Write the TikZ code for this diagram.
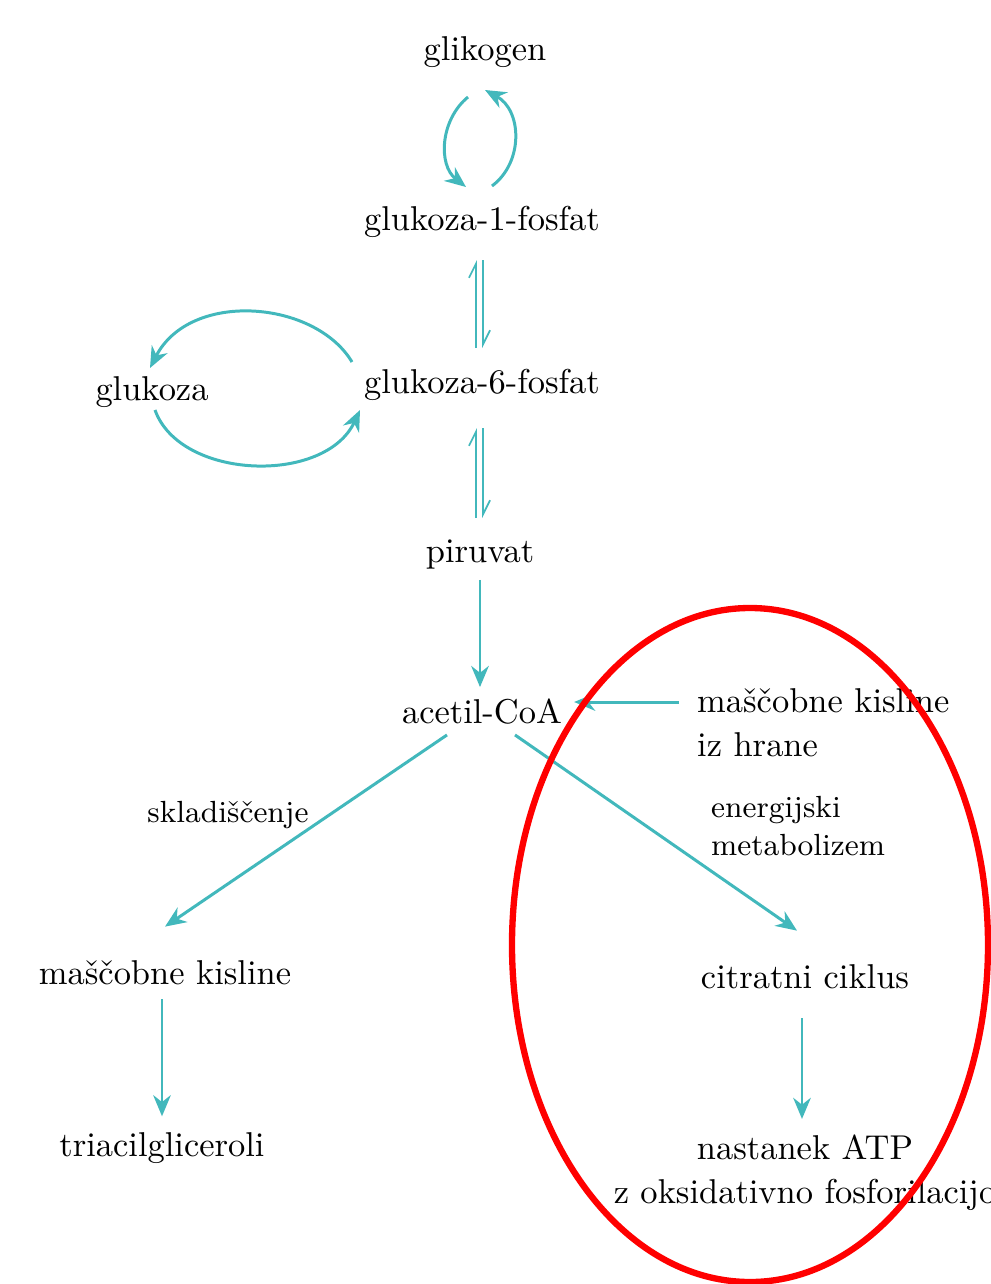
\documentclass[tikz,border=0pt]{standalone}
\usepackage{fontspec}
\usepackage{tikz}
\usetikzlibrary{positioning,arrows.meta,calc}
\definecolor{pathway}{RGB}{66,184,188}
\tikzset{
	metab/.style={font=\fontsize{9.8}{12.5}\selectfont, inner sep=1pt},
	note/.style={font=\fontsize{8.7}{11}\selectfont, inner sep=1pt, align=left},
	flow/.style={draw=pathway, line width=0.85pt, -{Stealth[length=6pt,width=5pt]}},
	half/.style={draw=pathway, line width=0.5pt, -{Straight Barb[harpoon,length=4pt,width=4pt]}},
}
\begin{document}
\begin{tikzpicture}[x=0.01cm,y=-0.01cm]
				\useasboundingbox (0,0) rectangle (991,1284);
				% metabolites
				\node [metab] (glikogen) at (485,52) {glikogen};
				\node [metab] (g1p) at (482,222) {glukoza-1-fosfat};
				\node [metab] (g6p) at (482,385) {glukoza-6-fosfat};
				\node [metab] (glukoza) at (152,392) {glukoza};
				\node [metab] (piruvat) at (480,555) {piruvat};
				\node [metab] (acetil) at (482,712) {acetil-CoA};
				\node [metab, align=left, anchor=west] (hrana) at (693,723) {maščobne kisline\\iz hrane};
				\node [metab] (kisline) at (165,973) {maščobne kisline};
				\node [metab] (citrat) at (805,977) {citratni ciklus};
				\node [metab] (tag) at (162,1148) {triacilgliceroli};
				\node [metab, align=center] (atp) at (805,1173) {nastanek ATP\\z oksidativno fosforilacijo};
				% labels
				\node [note] (sklad) at (228,815) {skladiščenje};
				\node [note, anchor=west] (energija) at (707,826) {energijski\\metabolizem};
				% glikogen <-> glukoza-1-fosfat
				\coordinate [] (gA) at (468,97) ;
				\coordinate [] (gB) at (466,187) ;
				\coordinate [] (gC) at (492,186) ;
				\coordinate [] (gD) at (485,90) ;
				\draw[flow] (gA) .. controls (440,120) and (438,165) .. (gB);
				\draw[flow] (gC) .. controls (524,162) and (522,110) .. (gD);
				% equilibria
				\coordinate [] (e1) at (476,348) ;
				\coordinate [] (e2) at (476,260) ;
				\coordinate [] (e3) at (483,260) ;
				\coordinate [] (e4) at (483,348) ;
				\coordinate [] (e5) at (476,518) ;
				\coordinate [] (e6) at (476,428) ;
				\coordinate [] (e7) at (483,428) ;
				\coordinate [] (e8) at (483,518) ;
				\draw[half] (e1) -- (e2);
				\draw[half] (e3) -- (e4);
				\draw[half] (e5) -- (e6);
				\draw[half] (e7) -- (e8);
				% glukoza <-> glukoza-6-fosfat
				\coordinate [] (cA) at (352,362) ;
				\coordinate [] (cB) at (150,368) ;
				\coordinate [] (cC) at (155,410) ;
				\coordinate [] (cD) at (360,410) ;
				\draw[flow] (cA) .. controls (315,300) and (190,290) .. (cB);
				\draw[flow] (cC) .. controls (180,480) and (325,485) .. (cD);
				% main path
				\draw[flow] ($(piruvat.south)+(0,6)$) -- ($(acetil.north)+(-2,-8)$);
				\draw[flow] ($(hrana.west)+(-14,-21)$) -- ($(acetil.east)+(8,-10)$);
				\draw[flow] ($(acetil.south)+(-35,6)$) -- ($(kisline.north)+(0,-30)$);
				\draw[flow] ($(acetil.south)+(33,6)$) -- ($(citrat.north)+(-8,-30)$);
				\draw[flow] ($(kisline.south -| tag.north)+(0,10)$) -- ($(tag.north)+(0,-12)$);
				\draw[flow] ($(citrat.south)+(-3,25)$) -- ($(atp.north)+(-3,-12)$);
				% highlight
				\draw[red, line width=1.8pt] (750,945) ellipse [x radius=238, y radius=337];
\end{tikzpicture}
\end{document}
